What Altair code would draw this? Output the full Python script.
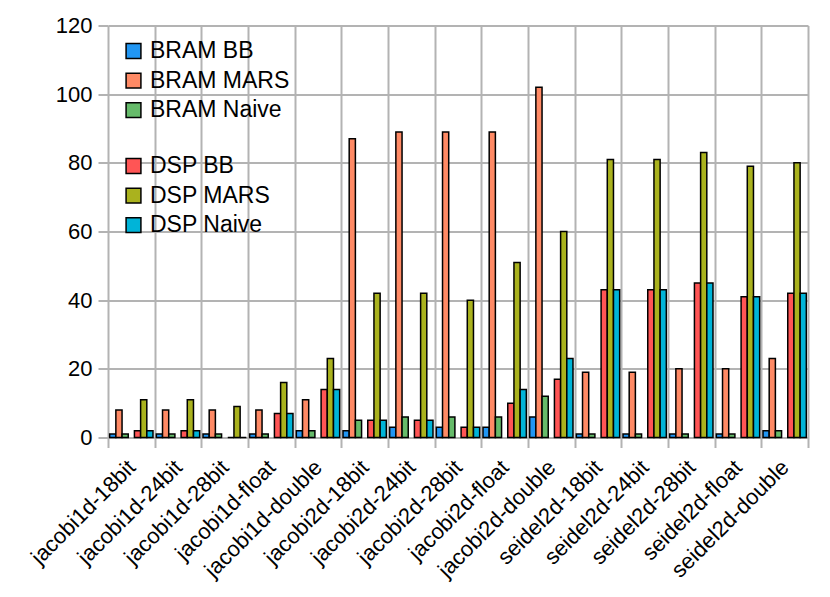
import altair as alt
import pandas as pd

benchmarks = [
    "jacobi1d-18bit", "jacobi1d-24bit", "jacobi1d-28bit", "jacobi1d-float", "jacobi1d-double",
    "jacobi2d-18bit", "jacobi2d-24bit", "jacobi2d-28bit", "jacobi2d-float", "jacobi2d-double",
    "seidel2d-18bit", "seidel2d-24bit", "seidel2d-28bit", "seidel2d-float", "seidel2d-double",
]

bram_bb    = [1, 1, 1, 1, 2, 2, 3, 3, 3, 6, 1, 1, 1, 1, 2]
bram_mars  = [8, 8, 8, 8, 11, 87, 89, 89, 89, 102, 19, 19, 20, 20, 23]
bram_naive = [1, 1, 1, 1, 2, 5, 6, 6, 6, 12, 1, 1, 1, 1, 2]
dsp_bb     = [2, 2, 0, 7, 14, 5, 5, 3, 10, 17, 43, 43, 45, 41, 42]
dsp_mars   = [11, 11, 9, 16, 23, 42, 42, 40, 51, 60, 81, 81, 83, 79, 80]
dsp_naive  = [2, 2, 0, 7, 14, 5, 5, 3, 14, 23, 43, 43, 45, 41, 42]

bram_names = ["BRAM BB", "BRAM MARS", "BRAM Naive"]
dsp_names = ["DSP BB", "DSP MARS", "DSP Naive"]
bram_colors = ["#2196f3", "#ff8a65", "#66bb6a"]
dsp_colors = ["#ff5555", "#aab21e", "#00b4d8"]
offset_slots = bram_names + [" "] + dsp_names
y_ticks = [0, 20, 40, 60, 80, 100, 120]


def long_table(names, columns):
    rows = []
    for name, vals in zip(names, columns):
        for b, v in zip(benchmarks, vals):
            rows.append({"bench": b, "series": name, "value": v})
    return pd.DataFrame(rows)


bram_df = long_table(bram_names, [bram_bb, bram_mars, bram_naive])
dsp_df = long_table(dsp_names, [dsp_bb, dsp_mars, dsp_naive])

grid_color = "#b3b3b3"
font = "Liberation Sans"
fsize = 22

x_enc = alt.X(
    "bench:N",
    sort=benchmarks,
    title=None,
    scale=alt.Scale(paddingInner=0, paddingOuter=0),
    axis=alt.Axis(
        tickBand="extent",
        grid=True,
        gridColor=grid_color,
        gridWidth=2,
        tickColor=grid_color,
        tickWidth=2,
        tickSize=10,
        domain=False,
        labelAngle=315,
        labelAlign="right",
        labelBaseline="middle",
        labelPadding=16,
        labelFont=font,
        labelFontSize=fsize,
        labelColor="black",
    ),
)
xoff_enc = alt.XOffset(
    "series:N",
    scale=alt.Scale(domain=offset_slots, paddingInner=0, paddingOuter=0.27),
)
y_enc = alt.Y(
    "value:Q",
    title=None,
    scale=alt.Scale(domain=[0, 120], nice=False),
    axis=alt.Axis(
        values=y_ticks,
        grid=True,
        gridColor=grid_color,
        gridWidth=2,
        tickColor=grid_color,
        tickWidth=2,
        tickSize=10,
        domain=False,
        labelPadding=6,
        labelFont=font,
        labelFontSize=fsize,
        labelColor="black",
    ),
)


def legend(y):
    return alt.Legend(
        orient="none",
        legendX=14,
        legendY=y,
        padding=0,
        symbolType="square",
        symbolSize=220,
        symbolStrokeColor="black",
        symbolStrokeWidth=1.5,
        symbolOpacity=1,
        labelFont=font,
        labelFontSize=23,
        labelColor="black",
        labelOffset=5,
        rowPadding=5.6,
    )


bram = alt.Chart(bram_df).mark_bar(stroke="black", strokeWidth=1.5).encode(
    x=x_enc,
    xOffset=xoff_enc,
    y=y_enc,
    color=alt.Color(
        "series:N",
        title=None,
        scale=alt.Scale(domain=bram_names, range=bram_colors),
        legend=legend(14),
    ),
)

dsp = alt.Chart(dsp_df).mark_bar(stroke="black", strokeWidth=1.5).encode(
    x=x_enc,
    xOffset=xoff_enc,
    y=y_enc,
    fill=alt.Fill(
        "series:N",
        title=None,
        scale=alt.Scale(domain=dsp_names, range=dsp_colors),
        legend=legend(129),
    ),
)

chart = alt.layer(bram, dsp).properties(
    width=700,
    height=412,
    autosize=alt.AutoSizeParams(type="none"),
    padding={"left": 100, "top": 17.5, "right": 14, "bottom": 150},
).configure_view(stroke="transparent")

chart.save("out.html", embed_options={"renderer": "svg", "actions": False})
